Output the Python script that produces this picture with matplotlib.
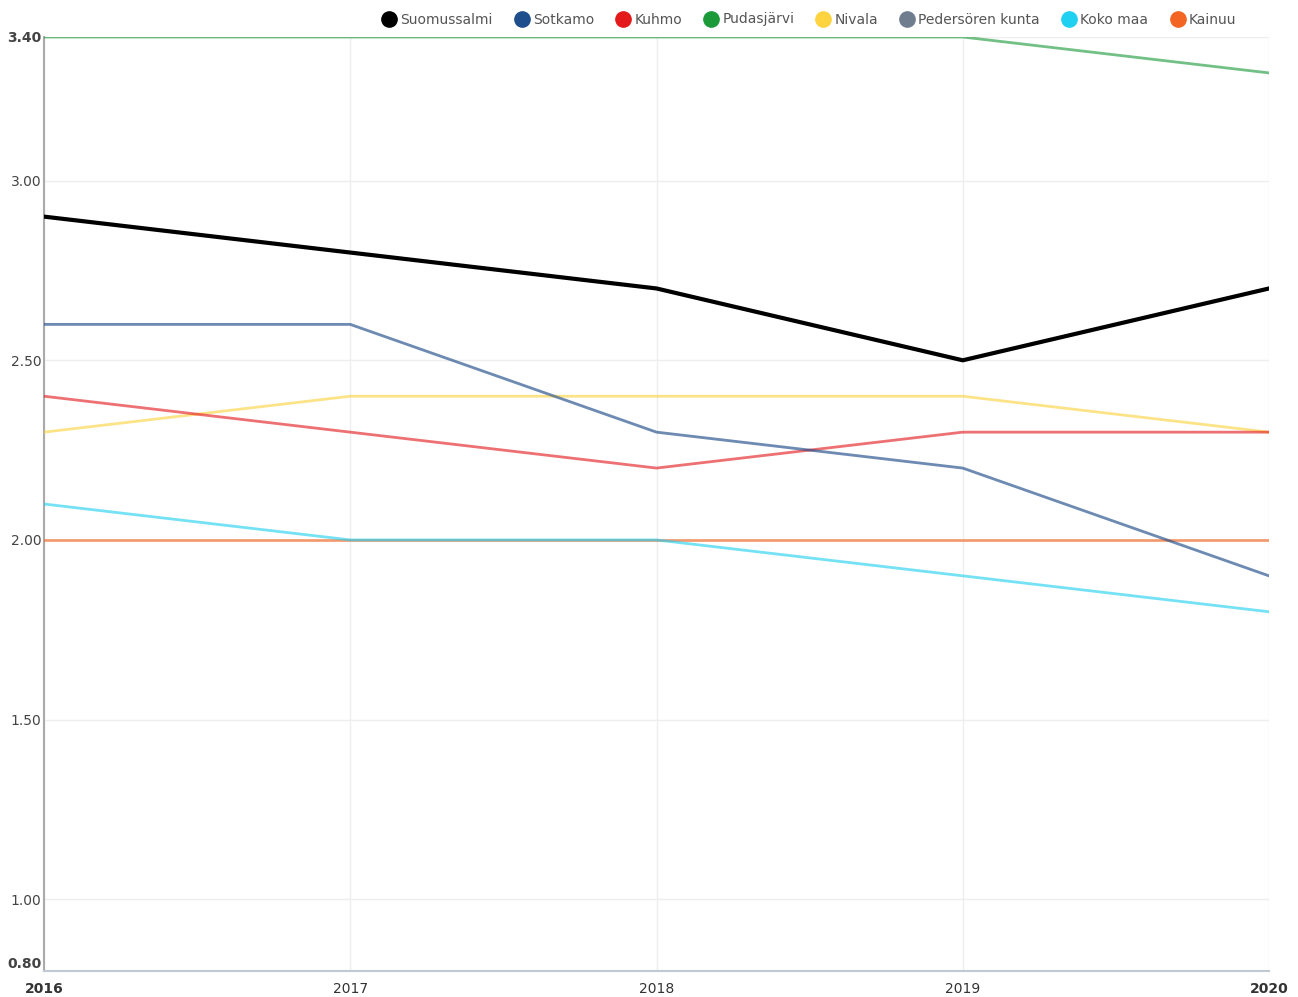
import matplotlib.pyplot as plt
from matplotlib.lines import Line2D

years = [2016, 2017, 2018, 2019, 2020]

# values
suomussalmi = [2.9, 2.8, 2.7, 2.5, 2.7]
sotkamo = [2.6, 2.6, 2.3, 2.2, 1.9]
kuhmo = [2.4, 2.3, 2.2, 2.3, 2.3]
pudasjarvi = [3.4, 3.4, 3.4, 3.4, 3.3]
nivala = [2.3, 2.4, 2.4, 2.4, 2.3]
pedersoren = [2.6, 2.6, 2.3, 2.2, 1.9]
koko_maa = [2.1, 2.0, 2.0, 1.9, 1.8]
kainuu = [2.0, 2.0, 2.0, 2.0, 2.0]

names = ['Suomussalmi', 'Sotkamo', 'Kuhmo', 'Pudasjärvi', 'Nivala',
         'Pedersören kunta', 'Koko maa', 'Kainuu']
series = [suomussalmi, sotkamo, kuhmo, pudasjarvi, nivala,
          pedersoren, koko_maa, kainuu]
colors = ['#000000', '#1f4e8c', '#e3191c', '#1c9a3a', '#fdd33f',
          '#6f7d8f', '#1fd0f0', '#f26522']

y_ticks = [0.8, 1.0, 1.5, 2.0, 2.5, 3.0, 3.4]

fig = plt.figure(figsize=(12.98, 9.97), dpi=100)
ax = fig.add_axes([44 / 1298, 1 - 971 / 997, (1269 - 44) / 1298, (971 - 37) / 997])

# draw in reverse so the highlighted black line stays on top
for name, vals, col in reversed(list(zip(names, series, colors))):
    if name == 'Suomussalmi':
        ax.plot(years, vals, color=col, linewidth=3, zorder=5)
    elif name == 'Pedersören kunta':
        ax.plot(years, vals, color=col, linewidth=2, alpha=0.12, zorder=2)
    else:
        ax.plot(years, vals, color=col, linewidth=2, alpha=0.62, zorder=3)

ax.set_xlim(2016, 2020)
ax.set_ylim(0.8, 3.4)
ax.set_xticks(years)
ax.set_yticks(y_ticks)
ax.set_yticklabels([f'{v:.2f}' for v in y_ticks])
ax.set_xticklabels([str(y) for y in years])

for lbl in ax.get_xticklabels():
    lbl.set_fontsize(10)
    lbl.set_color('#333333')
for lbl in ax.get_yticklabels():
    lbl.set_fontsize(10)
    lbl.set_color('#444444')
xl = ax.get_xticklabels()
xl[0].set_fontweight('bold')
xl[-1].set_fontweight('bold')
yl = ax.get_yticklabels()
yl[0].set_fontweight('bold')
yl[-1].set_fontweight('bold')
yl[0].set_verticalalignment('bottom')

ax.tick_params(axis='x', length=0, pad=8)
ax.tick_params(axis='y', length=0, pad=2)
ax.grid(True, color='#eeeeee', linewidth=1)
ax.set_axisbelow(True)
for s in ['top', 'right']:
    ax.spines[s].set_visible(False)
ax.spines['left'].set_color('#aaaaaa')
ax.spines['left'].set_linewidth(1.5)
ax.spines['bottom'].set_color('#c0c8d4')
ax.spines['bottom'].set_linewidth(1.5)

handles = [Line2D([], [], marker='o', linestyle='', markersize=11,
                  markerfacecolor=c, markeredgecolor=c) for c in colors]
fig.legend(handles, names, loc='upper right', bbox_to_anchor=(0.962, 1.0),
           ncol=8, frameon=False, fontsize=10, handletextpad=-0.2,
           columnspacing=1.1, labelcolor='#555555')

fig.savefig('out.png', dpi=100, facecolor='white')
